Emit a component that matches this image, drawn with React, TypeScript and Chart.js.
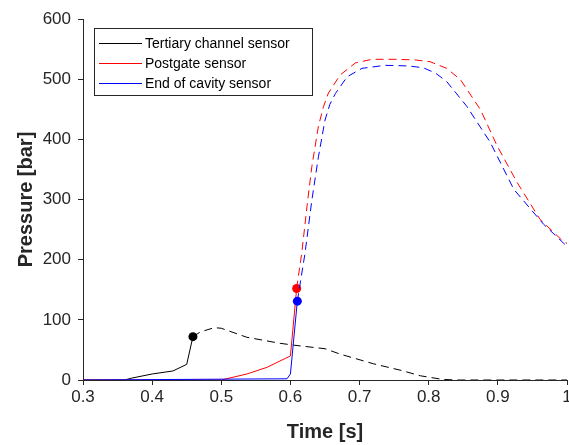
import { useEffect, useRef } from "react";
import { Chart, registerables } from "chart.js";

Chart.register(...registerables);

// ---- data (time in s, pressure in bar) ----
const tertiaryLabel = "Tertiary channel sensor";
const tertiaryTime = [0.3, 0.36, 0.37, 0.4, 0.43, 0.45, 0.459, 0.47, 0.49, 0.5, 0.537, 0.585, 0.604, 0.65, 0.672, 0.72, 0.76, 0.788, 0.82, 0.84, 1.0];
const tertiaryPressure = [0, 0, 3, 10, 15, 26, 72, 80, 87, 86, 71, 61, 58, 52, 43, 27, 16, 7, 1, 0, 0];
const tertiarySplit = 6;

const postgateLabel = "Postgate sensor";
const postgateTime = [0.3, 0.5, 0.537, 0.566, 0.6, 0.609, 0.6165, 0.624, 0.631, 0.6405, 0.648, 0.655, 0.672, 0.694, 0.718, 0.751, 0.78, 0.802, 0.826, 0.846, 0.875, 0.899, 0.928, 0.961, 0.993, 1.0];
const postgatePressure = [0, 0, 10, 21, 40, 152, 212, 289, 355, 422, 455, 477, 507, 527, 533, 533, 532, 529, 518, 499, 449, 389, 328, 267, 232, 227];
const postgateSplit = 5;

const cavityLabel = "End of cavity sensor";
const cavityTime = [0.3, 0.595, 0.6, 0.61, 0.621, 0.631, 0.6405, 0.65, 0.657, 0.665, 0.682, 0.7035, 0.737, 0.77, 0.792, 0.81, 0.826, 0.855, 0.889, 0.923, 0.966, 1.0];
const cavityPressure = [0, 2, 10, 131, 210, 299, 371, 432, 458, 476, 504, 518, 523, 522, 519, 510, 496, 455, 395, 317, 259, 222];
const cavitySplit = 3;

const seriesColors = ["#000000", "#ff0000", "#0000ff"];

const xTickValues = [0.3, 0.4, 0.5, 0.6, 0.7, 0.8, 0.9, 1.0];
const yTickValues = [0, 100, 200, 300, 400, 500, 600];
const xTitle = "Time [s]";
const yTitle = "Pressure [bar]";

const FONT = "'Liberation Sans', Arial, Helvetica, sans-serif";
const AXIS = "#262626";

function makeSet(label: string, t: number[], p: number[], split: number, color: string, order: number) {
  return {
    label,
    data: t.map((x, i) => ({ x, y: p[i] })),
    borderColor: color,
    backgroundColor: color,
    borderWidth: 1,
    tension: 0,
    fill: false,
    order,
    pointRadius: (ctx: any) => (ctx.dataIndex === split ? 4.5 : 0),
    pointHoverRadius: 0,
    pointBorderWidth: 0,
    pointBackgroundColor: color,
    segment: {
      borderDash: (ctx: any) => (ctx.p0DataIndex >= split ? [8, 5] : undefined),
    },
  };
}

const boxLegend = {
  id: "boxLegend",
  afterDraw(chart: any) {
    const ctx = chart.ctx;
    const x0 = 94.5, y0 = 28.5, w = 218, h = 67;
    ctx.save();
    ctx.setLineDash([]);
    ctx.fillStyle = "#ffffff";
    ctx.fillRect(x0, y0, w, h);
    ctx.strokeStyle = AXIS;
    ctx.lineWidth = 1;
    ctx.strokeRect(x0, y0, w, h);
    const rows = [43, 63, 83];
    const labels = [tertiaryLabel, postgateLabel, cavityLabel];
    labels.forEach((label, i) => {
      const y = rows[i];
      ctx.beginPath();
      ctx.strokeStyle = seriesColors[i];
      ctx.lineWidth = 1;
      ctx.moveTo(99, y + 0.5);
      ctx.lineTo(142, y + 0.5);
      ctx.stroke();
      ctx.fillStyle = "#000000";
      ctx.font = `14px ${FONT}`;
      ctx.textBaseline = "middle";
      ctx.textAlign = "left";
      ctx.fillText(label, 145, y + 1);
    });
    ctx.restore();
  },
};

export default function App() {
  const ref = useRef<HTMLCanvasElement | null>(null);
  useEffect(() => {
    document.body.style.margin = "0";
    const canvas = ref.current!;
    const chart = new Chart(canvas, {
      type: "line",
      data: {
        datasets: [
          makeSet(tertiaryLabel, tertiaryTime, tertiaryPressure, tertiarySplit, seriesColors[0], 2),
          makeSet(postgateLabel, postgateTime, postgatePressure, postgateSplit, seriesColors[1], 1),
          makeSet(cavityLabel, cavityTime, cavityPressure, cavitySplit, seriesColors[2], 0),
        ] as any,
      },
      options: {
        responsive: false,
        animation: false,
        events: [],
        layout: { padding: { top: 19, right: 2, left: 0, bottom: 0 } },
        plugins: { legend: { display: false }, tooltip: { enabled: false } },
        scales: {
          x: {
            type: "linear",
            min: 0.3,
            max: 1.0,
            afterBuildTicks: (s: any) => {
              s.ticks = xTickValues.map((v) => ({ value: v }));
            },
            afterFit: (s: any) => {
              s.height = 65;
              s.paddingLeft = 0;
              s.paddingRight = 0;
            },
            ticks: {
              autoSkip: false,
              maxRotation: 0,
              padding: 2,
              color: AXIS,
              font: { size: 17, family: FONT },
              callback: (v: any) => String(+Number(v).toFixed(1)),
            },
            grid: { drawOnChartArea: false, drawTicks: true, tickLength: 5, color: AXIS },
            border: { display: true, color: AXIS, width: 1 },
            title: {
              display: true,
              text: xTitle,
              color: AXIS,
              font: { size: 20, weight: "bold", family: FONT },
              padding: { top: 0, bottom: 1 },
            },
          },
          y: {
            type: "linear",
            min: 0,
            max: 600,
            afterBuildTicks: (s: any) => {
              s.ticks = yTickValues.map((v) => ({ value: v }));
            },
            afterFit: (s: any) => {
              s.width = 83;
              s.paddingTop = 0;
              s.paddingBottom = 0;
            },
            ticks: {
              padding: 7,
              color: AXIS,
              font: { size: 17, family: FONT },
              callback: (v: any) => String(v),
            },
            grid: { drawOnChartArea: false, drawTicks: true, tickLength: 5, color: AXIS },
            border: { display: true, color: AXIS, width: 1 },
            title: {
              display: true,
              text: yTitle,
              color: AXIS,
              font: { size: 20, weight: "bold", family: FONT },
              padding: { top: 14, bottom: 0 },
            },
          },
        },
      } as any,
      plugins: [boxLegend],
    });
    return () => chart.destroy();
  }, []);
  return <canvas ref={ref} width={569} height={445} style={{ display: "block" }} />;
}
